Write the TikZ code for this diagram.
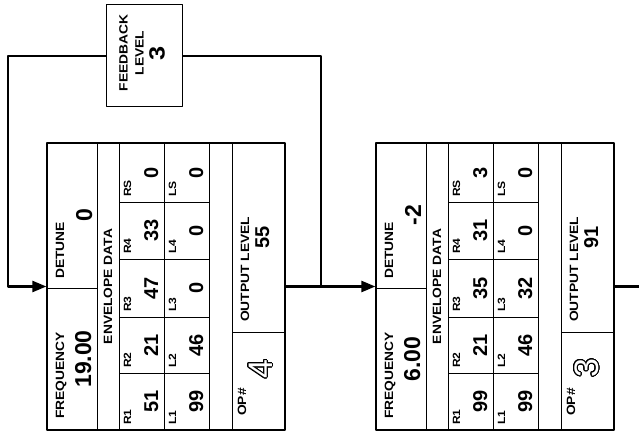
\documentclass[tikz,border=0pt]{standalone}
\usepackage{fontspec}
\setmainfont{Liberation Sans}
\newfontfamily\lblfont[FakeStretch=1.15]{Liberation Sans}
\usepackage{contour}
\usetikzlibrary{arrows.meta}
\contourlength{0.7pt}
\contournumber{32}
\tikzset{
  lbl/.style={rotate=90,anchor=base west,inner sep=0pt,font=\lblfont\bfseries\fontsize{12}{13}\selectfont},
  cell/.style={lbl,font=\lblfont\bfseries\fontsize{10.5}{12}\selectfont},
  val/.style={rotate=90,anchor=base,inner sep=0pt,font=\bfseries\fontsize{23}{24}\selectfont},
  envval/.style={val,font=\bfseries\fontsize{20}{21}\selectfont},
  opnum/.style={rotate=90,inner sep=0pt,font=\fontsize{34}{34}\selectfont},
  opframe/.style={draw,line width=1.3pt,minimum width=238pt,minimum height=287pt,inner sep=0pt},
  grid/.style={line width=0.9pt},
  link/.style={line width=2.5pt}
}
\begin{document}
\begin{tikzpicture}[x=1pt,y=-1pt,line join=round,>={Triangle[length=14pt,width=11pt]}]
\useasboundingbox (0,0) rectangle (639,435);
\node[opframe] (op4) at (166,286.5) {};
\node[opframe] (op3) at (495,286.5) {};
\node[draw,line width=1pt,minimum width=76pt,minimum height=102pt,inner sep=0pt] (fb) at (144,56) {};
\node[rotate=90,align=center,inner sep=0pt,font=\lblfont\bfseries\fontsize{12}{16}\selectfont] (fbtext) at (142,53)
  {FEEDBACK\\LEVEL\\[5pt]{\fontsize{22}{22}\selectfont 3}};

\begin{scope}[shift={(47,143)}]
\draw[grid] (50,0) -- (50,287) (72,0) -- (72,287) (117,0) -- (117,287) (162,0) -- (162,287) (185,0) -- (185,287);
\draw[grid] (0,145) -- (50,145) (185,189) -- (238,189);
\foreach \y in {59,116,174,230} \draw[grid] (72,\y) -- (162,\y);
\node[lbl] (op4-fr) at (17,276) {FREQUENCY};
\node[val] (op4-frv) at (44,216) {19.00};
\node[lbl] (op4-dt) at (17,136) {DETUNE};
\node[val] (op4-dtv) at (45,72) {0};
\node[lbl,anchor=center] (op4-env) at (61,143.5) {ENVELOPE DATA};
\foreach \t/\b/\rn/\rv/\ln/\lv in {0/59/RS/0/LS/0, 59/116/R4/33/L4/0, 116/174/R3/47/L3/0, 174/230/R2/21/L2/46, 230/287/R1/51/L1/99}{
  \node[cell] (op4-\rn) at (84,\b-5) {\rn};
  \node[envval] (op4-\rn v) at (111,{(\t+\b)/2}) {\rv};
  \node[cell] (op4-\ln) at (129,\b-5) {\ln};
  \node[envval] (op4-\ln v) at (156,{(\t+\b)/2}) {\lv};
}
\node[lbl] (op4-out) at (202,179) {OUTPUT LEVEL};
\node[envval] (op4-outv) at (222,94.5) {55};
\node[lbl] (op4-no) at (199,273) {OP\#};
\node[opnum] (op4-nov) at (214,226) {\color{white}\contour{black}{4}};
\end{scope}

\begin{scope}[shift={(376,143)}]
\draw[grid] (50,0) -- (50,287) (72,0) -- (72,287) (117,0) -- (117,287) (162,0) -- (162,287) (185,0) -- (185,287);
\draw[grid] (0,145) -- (50,145) (185,189) -- (238,189);
\foreach \y in {59,116,174,230} \draw[grid] (72,\y) -- (162,\y);
\node[lbl] (op3-fr) at (17,276) {FREQUENCY};
\node[val] (op3-frv) at (44,216) {6.00};
\node[lbl] (op3-dt) at (17,136) {DETUNE};
\node[val] (op3-dtv) at (45,72) {-2};
\node[lbl,anchor=center] (op3-env) at (61,143.5) {ENVELOPE DATA};
\foreach \t/\b/\rn/\rv/\ln/\lv in {0/59/RS/3/LS/0, 59/116/R4/31/L4/0, 116/174/R3/35/L3/32, 174/230/R2/21/L2/46, 230/287/R1/99/L1/99}{
  \node[cell] (op3-\rn) at (84,\b-5) {\rn};
  \node[envval] (op3-\rn v) at (111,{(\t+\b)/2}) {\rv};
  \node[cell] (op3-\ln) at (129,\b-5) {\ln};
  \node[envval] (op3-\ln v) at (156,{(\t+\b)/2}) {\lv};
}
\node[lbl] (op3-out) at (202,179) {OUTPUT LEVEL};
\node[envval] (op3-outv) at (222,94.5) {91};
\node[lbl] (op3-no) at (199,273) {OP\#};
\node[opnum] (op3-nov) at (211,225) {\color{white}\contour{black}{3}};
\end{scope}

\coordinate (split) at (321,286.5);
\coordinate (back) at (8,286.5);
\coordinate (out3) at (639,286.5);
\draw[link] (op4.east) -- (split);
\draw[link,->] (split) -- (op3.west);
\draw[link] (split) |- (fb.east);
\draw[link,->] (fb.west) -| (back) -- (op4.west);
\draw[link] (op3.east) -- (out3);
\end{tikzpicture}
\end{document}
